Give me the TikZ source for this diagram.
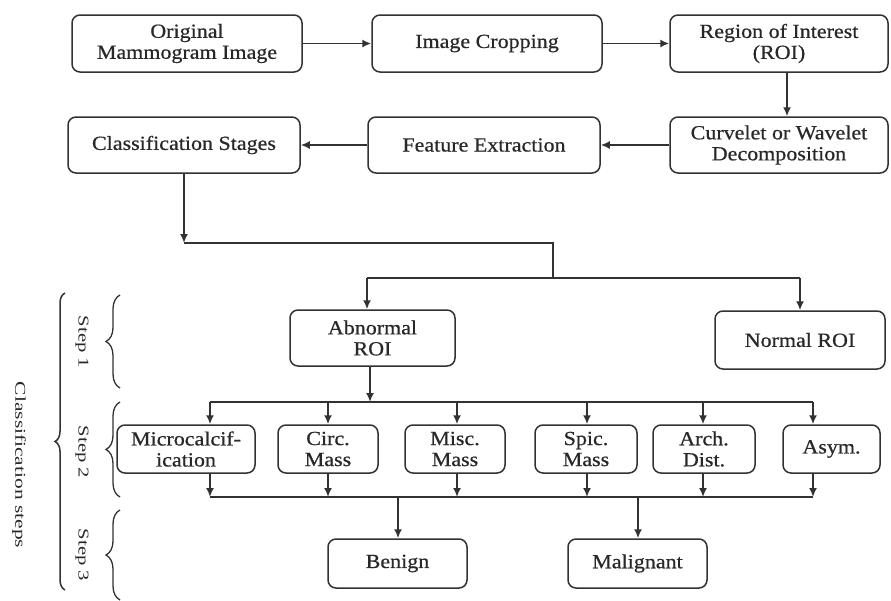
\documentclass[tikz,border=0pt]{standalone}
\usepackage{fontspec}
\setmainfont{Liberation Serif}[FakeStretch=1.1,FakeBold=0.6]
\newfontfamily\labfont{Liberation Serif}[FakeStretch=1.1]
\usetikzlibrary{arrows.meta,decorations.pathreplacing}
\definecolor{linec}{RGB}{50,50,50}
\definecolor{textc}{RGB}{40,40,40}
\begin{document}
\begin{tikzpicture}[x=1pt,y=-1pt,
  box/.style={draw=linec, line width=1.5pt, rounded corners=8pt, text=textc,
    font=\fontsize{20}{21}\selectfont, align=center, inner sep=0pt},
  arr/.style={draw=linec, line width=1.7pt, -{Latex[length=9pt,width=8pt]}},
  ln/.style={draw=linec, line width=1.7pt},
  brc/.style={draw=linec, line width=1.3pt, decorate, decoration={brace, amplitude=14pt, aspect=0.5}},
  bigbrc/.style={draw=linec, line width=1.5pt, decorate, decoration={brace, amplitude=10pt, aspect=0.5}},
  lab/.style={text=textc, rotate=-90, font=\labfont\fontsize{15}{15}\selectfont, inner sep=0pt}]
\fill[white] (0,0) rectangle (891,600);
\useasboundingbox (0,0) rectangle (891,600);

% row 1
\node[box, minimum width=230pt, minimum height=57pt] (orig) at (187,43.5) {Original\\Mammogram Image};
\node[box, minimum width=230pt, minimum height=57pt] (crop) at (487,43.5) {Image Cropping};
\node[box, minimum width=218pt, minimum height=57pt] (roi) at (779,43.5) {Region of Interest\\(ROI)};
% row 2
\node[box, minimum width=232pt, minimum height=56pt] (cls) at (184,145) {Classification Stages};
\node[box, minimum width=232pt, minimum height=56pt] (feat) at (484,145) {Feature Extraction};
\node[box, minimum width=218pt, minimum height=56pt] (curv) at (779,145) {Curvelet or Wavelet\\Decomposition};
% step 1
\node[box, minimum width=165pt, minimum height=56pt] (abn) at (372.5,338) {Abnormal\\ROI};
\node[box, minimum width=170pt, minimum height=58pt] (norm) at (800,340) {Normal ROI};
% step 2
\node[box, minimum width=138pt, minimum height=48pt] (micro) at (186,449) {Microcalcif-\\ication};
\node[box, minimum width=100pt, minimum height=48pt] (circ) at (328,449) {Circ.\\Mass};
\node[box, minimum width=100pt, minimum height=48pt] (misc) at (455,449) {Misc.\\Mass};
\node[box, minimum width=102pt, minimum height=48pt] (spic) at (586,449) {Spic.\\Mass};
\node[box, minimum width=102pt, minimum height=48pt] (arch) at (704,449) {Arch.\\Dist.};
\node[box, minimum width=97pt, minimum height=48pt] (asym) at (831.5,449) {Asym.};
% step 3
\node[box, minimum width=139pt, minimum height=49pt] (ben) at (397.5,563.5) {Benign};
\node[box, minimum width=139pt, minimum height=49pt] (mal) at (637.5,563.5) {Malignant};

% top flow
\draw[arr] (orig) -- (crop);
\draw[arr] (crop) -- (roi);
\coordinate (xr) at (787,0);
\draw[arr] (roi.south -| xr) -- (curv.north -| xr);
\draw[arr] (curv) -- (feat);
\draw[arr] (feat) -- (cls);

% branch to step 1
\coordinate (j1) at (184,243);
\coordinate (j2) at (553,243);
\coordinate (j3) at (553,278);
\coordinate (hl) at (367,278);
\coordinate (hr) at (800,278);
\draw[arr] (cls.south) -- (j1);
\draw[ln] (j1) -- (j2) -- (j3);
\draw[ln] (hl) -- (hr);
\draw[arr] (hl) -- (abn.north -| hl);
\draw[arr] (hr) -- (norm.north -| hr);

% abnormal to step 2
\coordinate (a1) at (370,402);
\coordinate (tl) at (210,402);
\coordinate (tr) at (813,402);
\draw[arr] (abn.south -| a1) -- (a1);
\draw[ln] (tl) -- (tr);
\coordinate (t1) at (210,402);
\coordinate (t2) at (328,402);
\coordinate (t3) at (457,402);
\coordinate (t4) at (587,402);
\coordinate (t5) at (703,402);
\coordinate (t6) at (813,402);
\draw[arr] (t1) -- (micro.north -| t1);
\draw[arr] (t2) -- (circ.north -| t2);
\draw[arr] (t3) -- (misc.north -| t3);
\draw[arr] (t4) -- (spic.north -| t4);
\draw[arr] (t5) -- (arch.north -| t5);
\draw[arr] (t6) -- (asym.north -| t6);

% step 2 to step 3
\coordinate (b1) at (210,497);
\coordinate (b2) at (328,497);
\coordinate (b3) at (457,497);
\coordinate (b4) at (587,497);
\coordinate (b5) at (703,497);
\coordinate (b6) at (813,497);
\draw[arr] (micro.south -| b1) -- (b1);
\draw[arr] (circ.south -| b2) -- (b2);
\draw[arr] (misc.south -| b3) -- (b3);
\draw[arr] (spic.south -| b4) -- (b4);
\draw[arr] (arch.south -| b5) -- (b5);
\draw[arr] (asym.south -| b6) -- (b6);
\draw[ln] (b1) -- (b6);
\coordinate (c1) at (398,497);
\coordinate (c2) at (638,497);
\draw[arr] (c1) -- (ben.north -| c1);
\draw[arr] (c2) -- (mal.north -| c2);

% braces and labels
\coordinate (s1b) at (120,388); \coordinate (s1t) at (120,295);
\coordinate (s2b) at (120,497); \coordinate (s2t) at (120,402);
\coordinate (s3b) at (120,600); \coordinate (s3t) at (120,510);
\coordinate (gb) at (65,590); \coordinate (gt) at (65,293);
\draw[brc] (s1b) -- (s1t);
\draw[brc] (s2b) -- (s2t);
\draw[brc] (s3b) -- (s3t);
\draw[bigbrc] (gb) -- (gt);
\node[lab] (l1) at (82,342) {\scalebox{1.25}[1]{Step 1}};
\node[lab] (l2) at (82,452) {\scalebox{1.25}[1]{Step 2}};
\node[lab] (l3) at (82,555) {\scalebox{1.25}[1]{Step 3}};
\node[lab] (lc) at (19,465) {\scalebox{1.3}[1]{Classification steps}};
\end{tikzpicture}
\end{document}
